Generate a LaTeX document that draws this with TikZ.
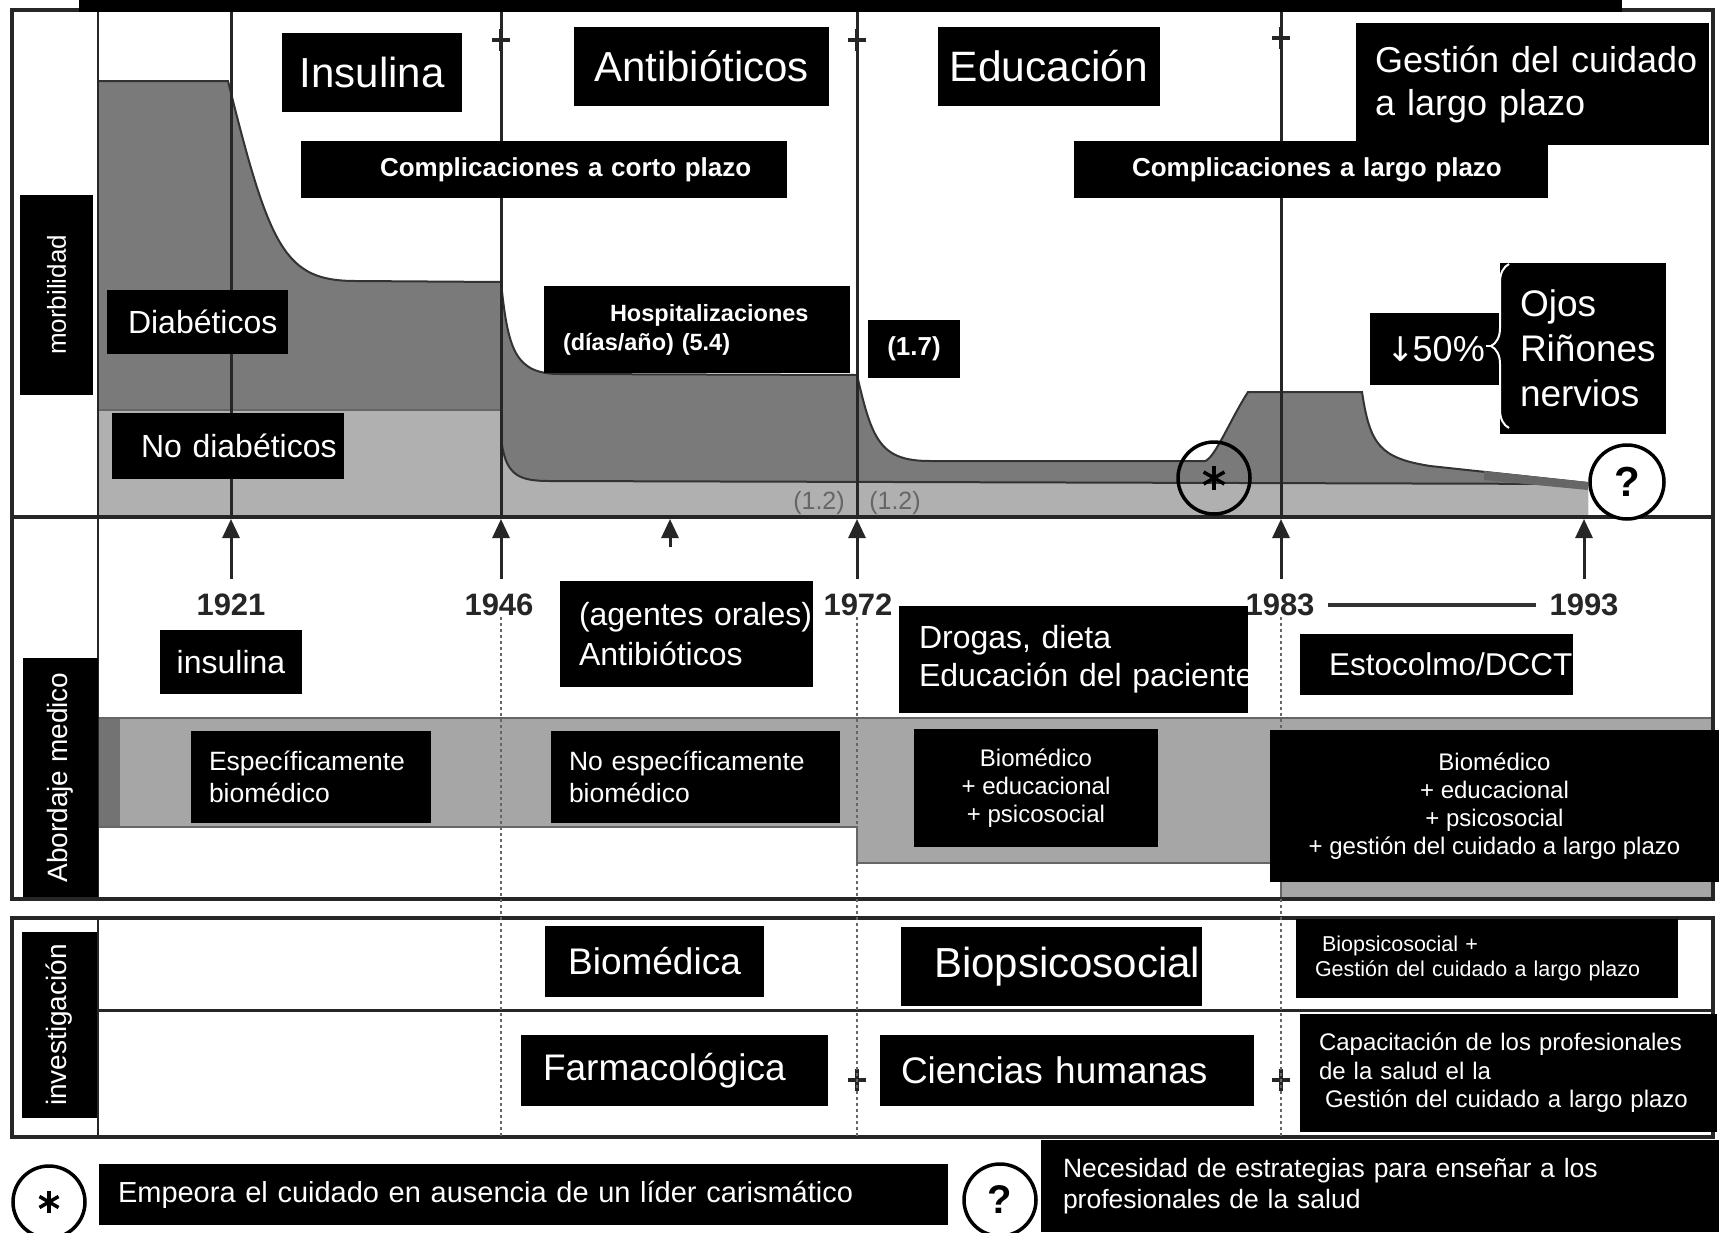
\documentclass[tikz,border=0pt]{standalone}
\usepackage{fontspec}
\setmainfont{Liberation Sans}
\newfontfamily\arrowfont{DejaVu Sans}
\usepackage{tikz}
\usetikzlibrary{arrows.meta,decorations.pathreplacing}
\newcommand{\fsz}[2]{\fontsize{#1}{#2}\selectfont}
\definecolor{diabgray}{gray}{0.48}
\definecolor{nondiabgray}{gray}{0.69}
\definecolor{bandgray}{gray}{0.65}

\begin{document}
\begin{tikzpicture}[x=1pt,y=-1pt]
	\tikzstyle{every node}=[scale=1.0000]
	\tikzstyle{blk}=[fill=black, text=white, inner ysep=0pt, inner xsep=0pt]
	\tikzstyle{lft}=[blk, align=left]
	\tikzstyle{ctr}=[blk, align=center]
	\tikzstyle{frm}=[black!85, line width=3.5pt]
	\tikzstyle{curveline}=[black!80, line width=2pt]
	\tikzstyle{yr}=[font=\bfseries\fsz{31}{36}, text=black!85, inner sep=1pt]
	\tikzstyle{arr}=[black!85, line width=3pt, -{Triangle[length=19pt,width=17pt]}, shorten <=14pt]
	\tikzstyle{dotline}=[black!60, line width=2.2pt, dash pattern=on 3pt off 3pt]
	\tikzstyle{ring}=[circle, draw=black, line width=3.5pt, minimum size=72pt, inner sep=0pt]

	%%Morbidity panel
	\fill[white] (0,0) rectangle (1719,1232);
	\useasboundingbox (0,0) rectangle (1719,1232);

	\fill [diabgray] (99,81) -- (228,81) .. controls (270,250) and (285,281) .. (356,281) -- (501,282) .. controls (508,350) and (515,374) .. (560,374) -- (857,375) .. controls (872,440) and (880,461) .. (930,461) -- (1205,461) .. controls (1215,458) and (1230,420) .. (1248,392) -- (1362,392) .. controls (1370,445) and (1380,458) .. (1430,466) -- (1588,483) -- (1588,517) -- (99,517) -- cycle;
	\draw [curveline] (99,81) -- (228,81) .. controls (270,250) and (285,281) .. (356,281) -- (501,282) .. controls (508,350) and (515,374) .. (560,374) -- (857,375) .. controls (872,440) and (880,461) .. (930,461) -- (1205,461) .. controls (1215,458) and (1230,420) .. (1248,392) -- (1362,392) .. controls (1370,445) and (1380,458) .. (1430,466) -- (1588,483);
	\fill [nondiabgray] (99,410) -- (501,410) -- (502,445) .. controls (507,476) and (520,481) .. (550,481) -- (1588,484) -- (1588,517) -- (99,517) -- cycle;
	\draw [black!60, line width=1.5pt] (99,410) -- (501,410);
	\draw [curveline] (502,445) .. controls (507,476) and (520,481) .. (550,481) -- (1588,484);
	\fill [black!60] (1484,471) -- (1588,482) -- (1588,490) -- (1484,480) -- cycle;
	\node [font=\fsz{25}{28}, text=black!60] (hosp12a) at (819,503) {(1.2)};
	\node [font=\fsz{25}{28}, text=black!60] (hosp12b) at (895,503) {(1.2)};

	%%Abordaje band
	\fill [bandgray] (98,718) -- (1713,718) -- (1713,899) -- (1281,899) -- (1281,863) -- (857,863) -- (857,827) -- (98,827) -- cycle;
	\fill [black!55] (98,718) rectangle (120,827);
	\draw [black!60, line width=1.5pt] (98,718) -- (1713,718);
	\draw [black!60, line width=1.5pt] (98,827) -- (857,827) -- (857,863) -- (1281,863) -- (1281,899);

	%%Frame
	\draw [frm] (12,10) rectangle (1713,899);
	\draw [frm] (12,918) rectangle (1713,1137);
	\draw [black!85, line width=2.5pt] (98,10) -- (98,899);
	\draw [black!85, line width=2.5pt] (98,918) -- (98,1137);
	\draw [black!85, line width=3pt] (98,1010) -- (1713,1010);
	\draw [frm, line width=4pt] (12,517) -- (1713,517);
	\fill [black] (79,0) rectangle (1622,12);

	\foreach \px in {231,501,857,1281}
		\draw [black!85, line width=3pt] (\px,12) -- (\px,517);
	\foreach \px/\py in {501/40,857/40,1281/38,857/1080,1281/1080}
		\draw [black!85, line width=4.5pt] (\px-9,\py) -- (\px+9,\py) (\px,\py-11) -- (\px,\py+11);

	%%Years
	\node [yr] (y1921) at (231,605) {1921};
	\node [yr] (y1946) at (499,605) {1946};
	\node [yr] (y1972) at (858,605) {1972};
	\node [yr] (y1983) at (1280,605) {1983};
	\node [yr] (y1993) at (1584,605) {1993};
	\coordinate (a1921) at (231,519);
	\coordinate (a1946) at (501,519);
	\coordinate (a1972) at (857,519);
	\coordinate (a1983) at (1281,519);
	\coordinate (a1993) at (1584,519);
	\coordinate (oral) at (670,561);
	\coordinate (aoral) at (670,519);
	\draw [arr] (y1921) -- (a1921);
	\draw [arr] (y1946.north -| a1946) -- (a1946);
	\draw [arr] (oral) -- (aoral);
	\draw [arr] (y1972.north -| a1972) -- (a1972);
	\draw [arr] (y1983.north -| a1983) -- (a1983);
	\draw [arr] (y1993) -- (a1993);
	\draw [black!80, line width=4pt, shorten <=12pt, shorten >=12pt] (y1983) -- (y1993);
	\coordinate (d1946) at (501,1137);
	\coordinate (d1972) at (857,1137);
	\coordinate (d1983) at (1281,1137);
	\draw [dotline] (y1946.south -| d1946) -- (d1946);
	\draw [dotline] (y1972.south -| d1972) -- (d1972);
	\draw [dotline] (y1983.south -| d1983) -- (d1983);

	%%Side labels
	\node [blk, rotate=90, font=\fsz{26}{30}, minimum width=200pt, minimum height=73pt] (morb) at (56.5,295) {morbilidad};
	\node [blk, rotate=90, font=\fsz{28}{32}, minimum width=239pt, minimum height=75pt] (abord) at (60.5,777.5) {Abordaje medico};
	\node [blk, rotate=90, font=\fsz{28}{32}, minimum width=186pt, minimum height=75pt] (invest) at (59.5,1025) {investigación};

	%%Morbidity labels
	\node [ctr, font=\fsz{42}{49}, minimum width=180pt, minimum height=79pt] (insulina) at (372,72.5) {Insulina};
	\node [ctr, font=\fsz{42}{49}, minimum width=255pt, minimum height=79pt] (antibio) at (701.5,66.5) {Antibióticos};
	\node [ctr, font=\fsz{42.5}{49}, minimum width=222pt, minimum height=79pt] (educ) at (1049,66.5) {Educación};
	\node [lft, font=\fsz{36}{43}, text width=315pt, inner xsep=19pt, minimum height=122pt] (gestion) at (1532.5,84) {\mbox{Gestión del cuidado}\\a largo plazo};
	\node [lft, font=\bfseries\fsz{26}{30}, text width=328pt, inner xsep=79pt, minimum height=57pt] (ccorto) at (544,169.5) {\mbox{Complicaciones a corto plazo}};
	\node [lft, font=\bfseries\fsz{26}{30}, text width=358pt, inner xsep=58pt, minimum height=57pt] (clargo) at (1311,169.5) {\mbox{Complicaciones a largo plazo}};
	\node [lft, font=\fsz{32}{38}, text width=139pt, inner xsep=21pt, minimum height=64pt] (diab) at (197.5,322) {Diabéticos};
	\node [lft, font=\fsz{32}{38}, text width=174pt, inner xsep=29pt, minimum height=66pt] (nodiab) at (228,446) {\mbox{No diabéticos}};
	\node [lft, font=\bfseries\fsz{23.5}{29}, text width=268pt, inner xsep=19pt, minimum height=87pt] (hosp) at (697,329.5) {\hspace*{47pt}Hospitalizaciones\\(días/año) (5.4)};
	\node [ctr, font=\bfseries\fsz{26}{30}, minimum width=92pt, minimum height=58pt] (hosp17) at (914,349) {(1.7)};
	\node [ctr, font=\fsz{36}{42}, minimum width=131pt, minimum height=72pt] (pct) at (1435.5,349) {{\arrowfont\fsz{34}{42}↓}\kern-2pt50\%};
	\node [lft, font=\fsz{37}{45}, text width=126pt, inner xsep=20pt, minimum height=171pt] (organos) at (1583,348.5) {Ojos\\\mbox{Riñones}\\nervios};
	\draw [white, line width=2pt, decorate, decoration={brace, amplitude=18pt}] (1509,428) -- (1509,264);
	\coordinate (pctend) at (1486,346);
	\coordinate (brtip) at (1493,346);
	\draw [white, line width=2pt] (pctend) -- (brtip);

	%%Circles
	\node [ring] (astc) at (1214,478) {};
	\foreach \a in {90,30,150}
		\draw [black, line width=3.5pt] (astc.center) ++(\a:12pt) -- ++(\a+180:24pt);
	\node [ring, fill=white, font=\bfseries\fsz{42}{46}, minimum size=74pt] (qmark) at (1627,482) {?};

	%%Timeline labels
	\node [ctr, font=\fsz{32}{38}, minimum width=142pt, minimum height=64pt] (insul2) at (231,662) {insulina};
	\node [lft, font=\fsz{32}{40}, text width=215pt, inner xsep=19pt, minimum height=106pt] (agentes) at (686.5,634) {\mbox{(agentes orales)}\\Antibióticos};
	\node [lft, font=\fsz{32}{38}, text width=309pt, inner xsep=20pt, minimum height=107pt] (drogas) at (1073.5,659.5) {Drogas, dieta\\\mbox{Educación del paciente}};
	\node [lft, font=\fsz{31.5}{36}, text width=215pt, inner xsep=29pt, minimum height=61pt] (estoc) at (1436.5,664.5) {\mbox{Estocolmo/DCCT}};

	%%Abordaje labels
	\node [lft, font=\fsz{26.5}{32}, text width=204pt, inner xsep=18pt, minimum height=92pt] (espec) at (311,777) {Específicamente\\biomédico};
	\node [lft, font=\fsz{26.5}{32}, text width=253pt, inner xsep=18pt, minimum height=92pt] (noespec) at (695.5,777) {No específicamente\\biomédico};
	\node [ctr, font=\fsz{24}{28}, minimum width=244pt, minimum height=118pt] (biomeda) at (1036,788) {Biomédico\\+ educacional\\+ psicosocial};
	\node [ctr, font=\fsz{24}{28}, minimum width=449pt, minimum height=152pt] (biomedb) at (1494.5,806) {Biomédico\\+ educacional\\+ psicosocial\\+ gestión del cuidado a largo plazo};

	%%Investigacion labels
	\node [ctr, font=\fsz{37}{42}, minimum width=219pt, minimum height=71pt] (biomedica) at (654.5,961.5) {Biomédica};
	\node [lft, font=\fsz{37}{42}, text width=263pt, inner xsep=22pt, minimum height=71pt] (farmaco) at (674.5,1070.5) {Farmacológica};
	\node [lft, font=\fsz{42}{48}, text width=235pt, inner xsep=33pt, minimum height=79pt] (biopsico) at (1051.5,966.5) {\mbox{Biopsicosocial}};
	\node [lft, font=\fsz{37}{42}, text width=332pt, inner xsep=21pt, minimum height=71pt] (ciencias) at (1067,1070.5) {Ciencias humanas};
	\node [lft, font=\fsz{21.5}{25}, text width=344pt, inner xsep=19pt, minimum height=79pt] (biopsicob) at (1487,958.5) {\hspace*{7pt}Biopsicosocial +\\Gestión del cuidado a largo plazo};
	\node [lft, font=\fsz{24}{28.5}, text width=379pt, inner xsep=19pt, minimum height=118pt] (capacit) at (1508.5,1073) {Capacitación de los profesionales\\de la salud el la\\\hspace*{6pt}Gestión del cuidado a largo plazo};

	%%Legend
	\node [ring, fill=white] (legast) at (49,1202) {};
	\foreach \a in {90,30,150}
		\draw [black, line width=3.5pt] (legast.center) ++(\a:11pt) -- ++(\a+180:22pt);
	\node [lft, font=\fsz{29}{34}, text width=811pt, inner xsep=19pt, minimum height=61pt] (empeora) at (523.5,1194.5) {Empeora el cuidado en ausencia de un líder carismático};
	\node [ring, fill=white, font=\bfseries\fsz{40}{46}] (legq) at (1000,1200) {?};
	\node [lft, font=\fsz{26.5}{31}, text width=634pt, inner xsep=22pt, minimum height=92pt] (necesidad) at (1380,1186) {Necesidad de estrategias para enseñar a los\\profesionales de la salud};

\end{tikzpicture}
\end{document}
